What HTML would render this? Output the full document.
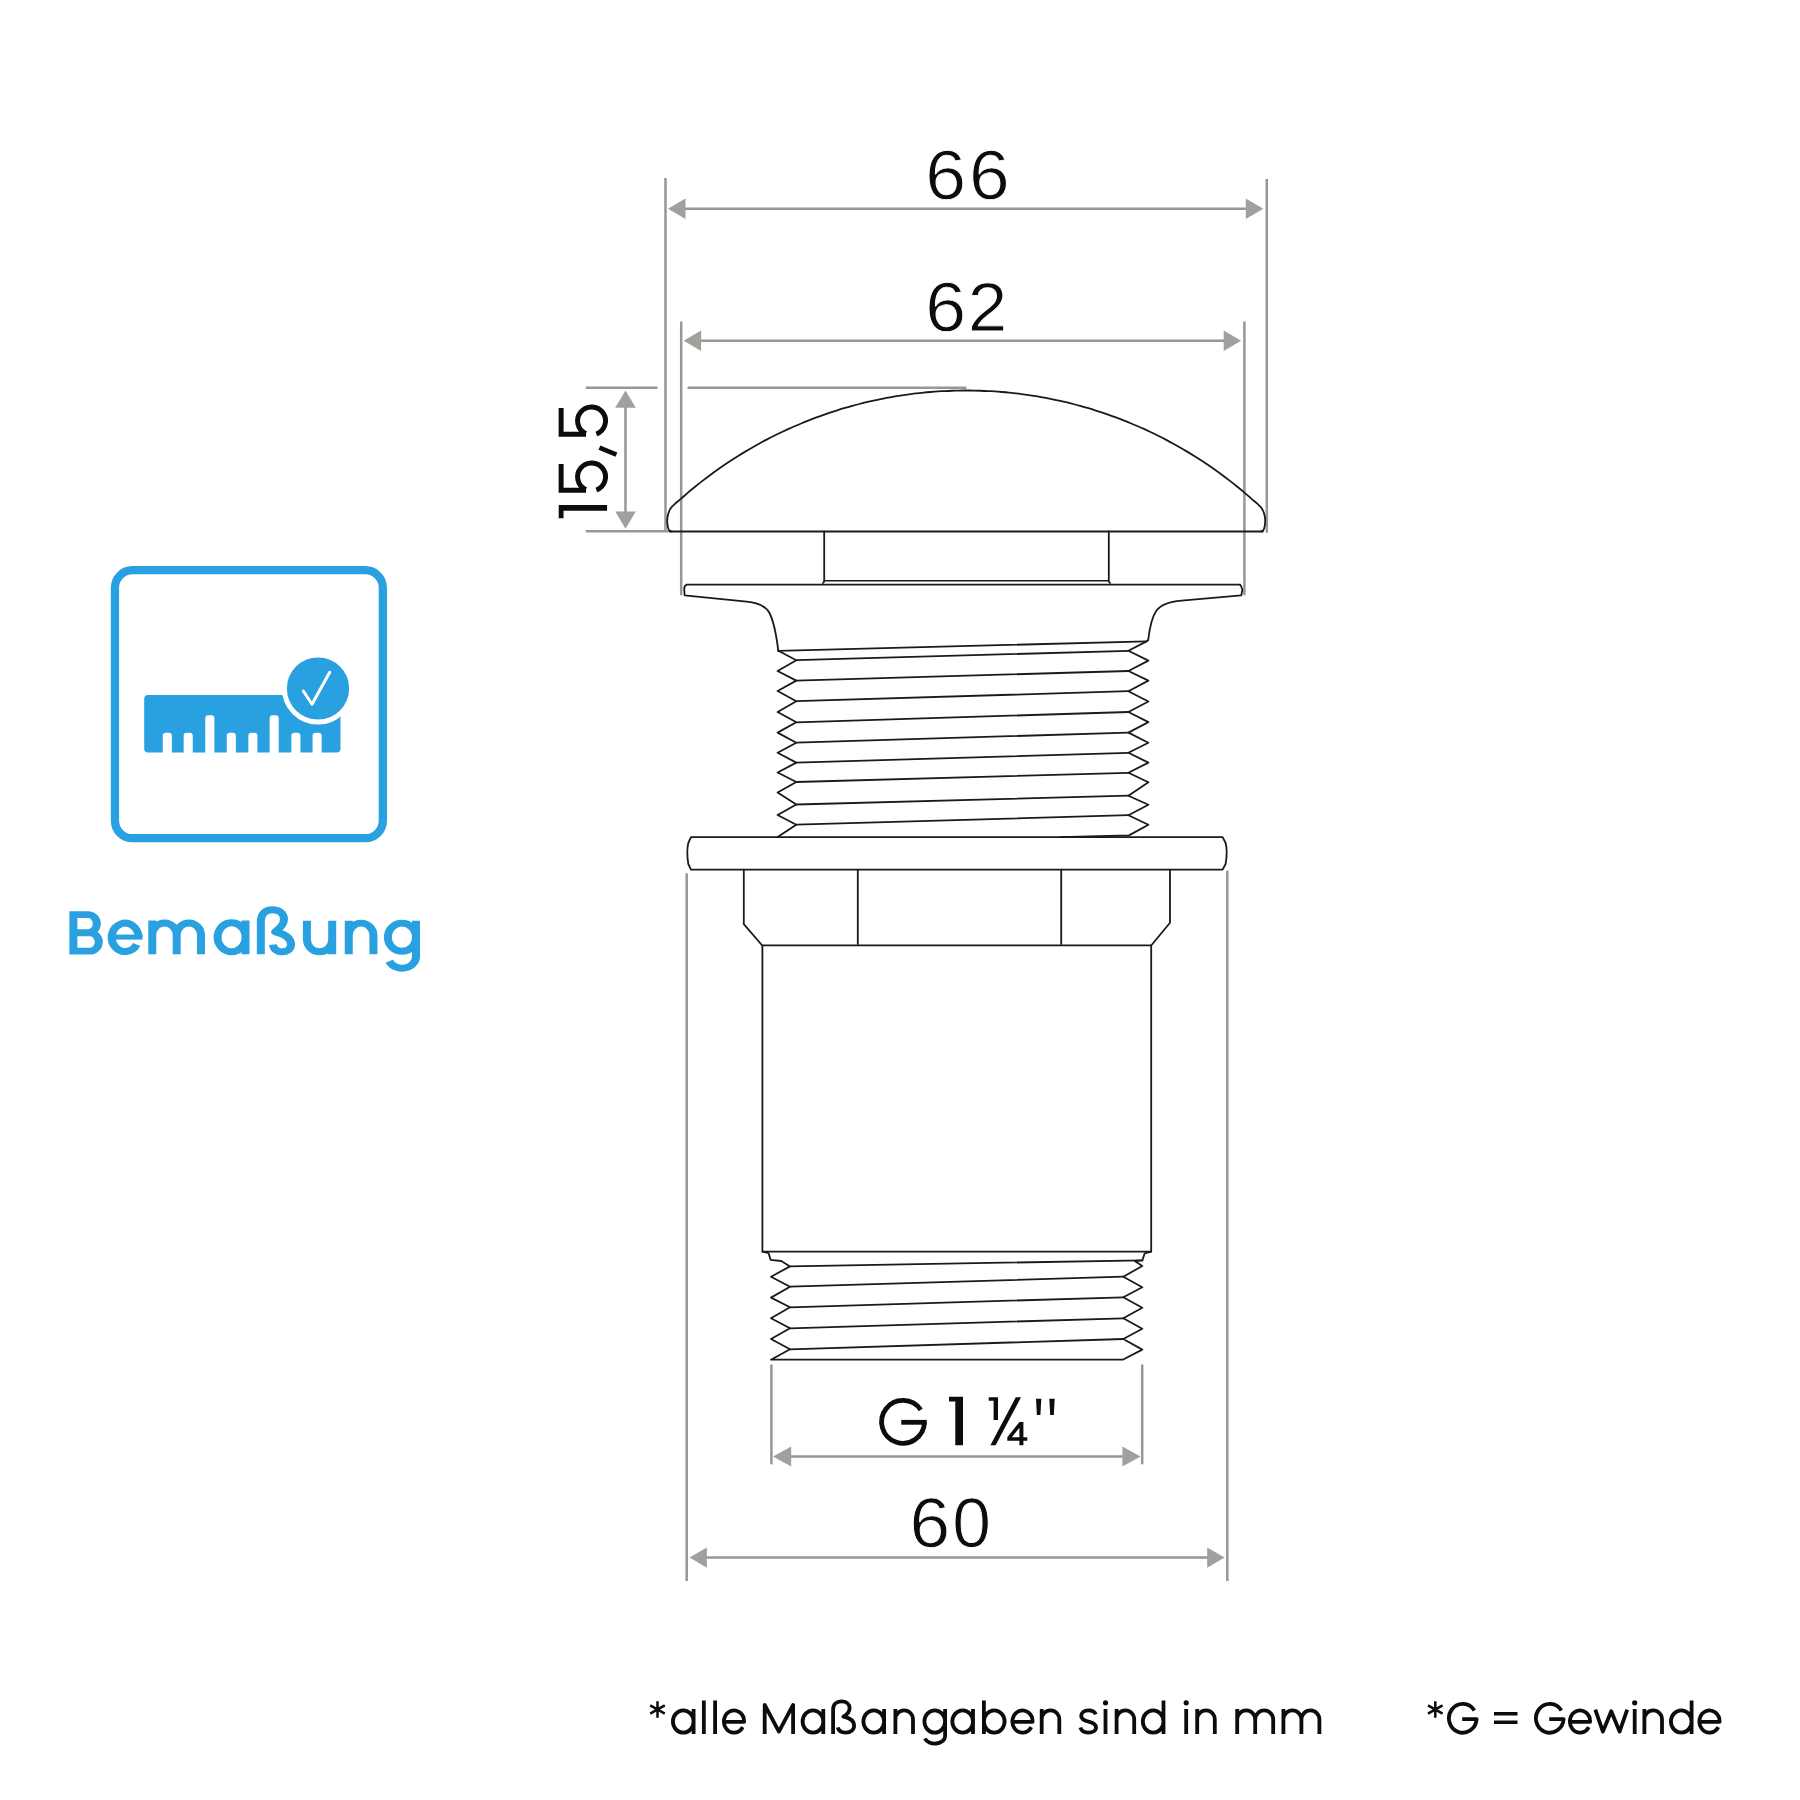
<!DOCTYPE html>
<html lang="de"><head><meta charset="utf-8"><title>Bemaßung</title>
<style>html,body{margin:0;padding:0;background:#fff;}body{width:1800px;height:1800px;overflow:hidden;font-family:"Liberation Sans",sans-serif;}svg{display:block;}</style></head>
<body>
<svg width="1800" height="1800" viewBox="0 0 1800 1800" font-family="'Liberation Sans', sans-serif" text-rendering="geometricPrecision">
<rect width="1800" height="1800" fill="#ffffff"/>
<g id="dims">
<line x1="665.5" y1="178" x2="665.5" y2="531.5" stroke="#979795" stroke-width="2.5" />
<line x1="1266.8" y1="179" x2="1266.8" y2="532.7" stroke="#979795" stroke-width="2.5" />
<line x1="684.5" y1="208.8" x2="1246.8" y2="208.8" stroke="#979795" stroke-width="2.5" />
<polygon points="668.00,208.80 685.50,198.50 685.50,219.10" fill="#a0a09c"/>
<polygon points="1263.30,208.80 1245.80,198.50 1245.80,219.10" fill="#a0a09c"/>
<line x1="681.2" y1="321.6" x2="681.2" y2="595.3" stroke="#979795" stroke-width="2.5" />
<line x1="1244.4" y1="321.6" x2="1244.4" y2="595.3" stroke="#979795" stroke-width="2.5" />
<line x1="700.1" y1="340.8" x2="1224.7" y2="340.8" stroke="#979795" stroke-width="2.5" />
<polygon points="683.60,340.80 701.10,330.50 701.10,351.10" fill="#a0a09c"/>
<polygon points="1241.20,340.80 1223.70,330.50 1223.70,351.10" fill="#a0a09c"/>
<line x1="585.8" y1="387.8" x2="657.5" y2="387.8" stroke="#979795" stroke-width="2.5" />
<line x1="687.5" y1="387.8" x2="966.5" y2="387.8" stroke="#979795" stroke-width="2.5" />
<line x1="585.8" y1="531.2" x2="668.5" y2="531.2" stroke="#979795" stroke-width="2.5" />
<line x1="625.5" y1="406.8" x2="625.5" y2="512.5999999999999" stroke="#979795" stroke-width="2.5" />
<polygon points="625.50,390.60 615.20,407.80 635.80,407.80" fill="#a0a09c"/>
<polygon points="625.50,528.80 615.20,511.60 635.80,511.60" fill="#a0a09c"/>
<line x1="771.4" y1="1364.5" x2="771.4" y2="1464.3" stroke="#979795" stroke-width="2.5" />
<line x1="1142.2" y1="1364.5" x2="1142.2" y2="1464.3" stroke="#979795" stroke-width="2.5" />
<line x1="790.2" y1="1456.5" x2="1123.3999999999999" y2="1456.5" stroke="#979795" stroke-width="2.5" />
<polygon points="773.00,1456.50 791.20,1446.40 791.20,1466.60" fill="#a0a09c"/>
<polygon points="1140.60,1456.50 1122.40,1446.40 1122.40,1466.60" fill="#a0a09c"/>
<line x1="686.7" y1="873.3" x2="686.7" y2="1581" stroke="#979795" stroke-width="2.5" />
<line x1="1227.3" y1="870.8" x2="1227.3" y2="1581" stroke="#979795" stroke-width="2.5" />
<line x1="705.9" y1="1557.6" x2="1208.1999999999998" y2="1557.6" stroke="#979795" stroke-width="2.5" />
<polygon points="689.50,1557.60 706.90,1547.40 706.90,1567.80" fill="#a0a09c"/>
<polygon points="1224.60,1557.60 1207.20,1547.40 1207.20,1567.80" fill="#a0a09c"/>
</g>
<g id="drawing">
<path d="M671.60,531.50 C671.20,531.32 669.83,531.22 669.20,530.40 C668.57,529.58 668.13,528.33 667.80,526.60 C667.47,524.87 667.12,522.20 667.20,520.00 C667.28,517.80 667.65,515.43 668.30,513.40 C668.95,511.37 669.88,509.50 671.10,507.80 C672.32,506.10 673.93,504.73 675.60,503.20 C677.27,501.67 679.00,500.40 681.10,498.60 C683.20,496.81 685.85,494.44 688.23,492.43 C690.60,490.41 692.98,488.45 695.36,486.52 C697.73,484.59 700.11,482.71 702.48,480.86 C704.86,479.02 707.23,477.21 709.61,475.45 C711.99,473.68 714.36,471.95 716.74,470.26 C719.11,468.57 721.49,466.91 723.87,465.29 C726.24,463.67 728.62,462.08 730.99,460.53 C733.37,458.98 735.74,457.46 738.12,455.97 C740.50,454.49 742.87,453.03 745.25,451.61 C747.62,450.19 750.00,448.80 752.38,447.43 C754.75,446.07 757.13,444.74 759.50,443.44 C761.88,442.13 764.25,440.86 766.63,439.62 C769.01,438.37 771.38,437.16 773.76,435.97 C776.13,434.78 778.51,433.62 780.88,432.48 C783.26,431.35 785.64,430.24 788.01,429.16 C790.39,428.08 792.76,427.02 795.14,425.99 C797.52,424.96 799.89,423.95 802.27,422.97 C804.64,422.00 807.02,421.04 809.39,420.11 C811.77,419.18 814.15,418.27 816.52,417.39 C818.90,416.51 821.27,415.65 823.65,414.82 C826.03,413.98 828.40,413.17 830.78,412.38 C833.15,411.59 835.53,410.83 837.90,410.09 C840.28,409.34 842.66,408.62 845.03,407.92 C847.41,407.23 849.78,406.55 852.16,405.90 C854.54,405.24 856.91,404.61 859.29,404.00 C861.66,403.39 864.04,402.81 866.41,402.24 C868.79,401.67 871.17,401.13 873.54,400.60 C875.92,400.08 878.29,399.57 880.67,399.09 C883.05,398.61 885.42,398.15 887.80,397.71 C890.17,397.27 892.55,396.85 894.92,396.45 C897.30,396.05 899.68,395.67 902.05,395.31 C904.43,394.95 906.80,394.62 909.18,394.30 C911.56,393.98 913.93,393.68 916.31,393.40 C918.68,393.13 921.06,392.87 923.44,392.63 C925.81,392.39 928.19,392.18 930.56,391.98 C932.94,391.78 935.31,391.60 937.69,391.45 C940.07,391.29 942.44,391.15 944.82,391.03 C947.19,390.91 949.57,390.82 951.95,390.74 C954.32,390.66 956.70,390.60 959.07,390.56 C961.45,390.52 963.82,390.50 966.20,390.50 C968.58,390.50 970.95,390.52 973.33,390.56 C975.70,390.60 978.08,390.66 980.46,390.74 C982.83,390.82 985.21,390.91 987.58,391.03 C989.96,391.15 992.33,391.29 994.71,391.45 C997.09,391.60 999.46,391.78 1001.84,391.98 C1004.21,392.18 1006.59,392.39 1008.97,392.63 C1011.34,392.87 1013.72,393.13 1016.09,393.40 C1018.47,393.68 1020.84,393.98 1023.22,394.30 C1025.60,394.62 1027.97,394.95 1030.35,395.31 C1032.72,395.67 1035.10,396.05 1037.48,396.45 C1039.85,396.85 1042.23,397.27 1044.60,397.71 C1046.98,398.15 1049.35,398.61 1051.73,399.09 C1054.11,399.57 1056.48,400.08 1058.86,400.60 C1061.23,401.13 1063.61,401.67 1065.99,402.24 C1068.36,402.81 1070.74,403.39 1073.11,404.00 C1075.49,404.61 1077.86,405.24 1080.24,405.90 C1082.62,406.55 1084.99,407.23 1087.37,407.92 C1089.74,408.62 1092.12,409.34 1094.50,410.09 C1096.87,410.83 1099.25,411.59 1101.62,412.38 C1104.00,413.17 1106.37,413.98 1108.75,414.82 C1111.13,415.65 1113.50,416.51 1115.88,417.39 C1118.25,418.27 1120.63,419.18 1123.01,420.11 C1125.38,421.04 1127.76,422.00 1130.13,422.97 C1132.51,423.95 1134.88,424.96 1137.26,425.99 C1139.64,427.02 1142.01,428.08 1144.39,429.16 C1146.76,430.24 1149.14,431.35 1151.52,432.48 C1153.89,433.62 1156.27,434.78 1158.64,435.97 C1161.02,437.16 1163.39,438.37 1165.77,439.62 C1168.15,440.86 1170.52,442.13 1172.90,443.44 C1175.27,444.74 1177.65,446.07 1180.03,447.43 C1182.40,448.80 1184.78,450.19 1187.15,451.61 C1189.53,453.03 1191.90,454.49 1194.28,455.97 C1196.66,457.46 1199.03,458.98 1201.41,460.53 C1203.78,462.08 1206.16,463.67 1208.54,465.29 C1210.91,466.91 1213.29,468.57 1215.66,470.26 C1218.04,471.95 1220.41,473.68 1222.79,475.45 C1225.17,477.21 1227.54,479.02 1229.92,480.86 C1232.29,482.71 1234.67,484.59 1237.05,486.52 C1239.42,488.45 1241.80,490.41 1244.17,492.43 C1246.55,494.44 1249.20,496.81 1251.30,498.60 C1253.40,500.40 1255.13,501.67 1256.80,503.20 C1258.47,504.73 1260.08,506.10 1261.30,507.80 C1262.52,509.50 1263.45,511.37 1264.10,513.40 C1264.75,515.43 1265.12,517.80 1265.20,520.00 C1265.28,522.20 1264.93,524.87 1264.60,526.60 C1264.27,528.33 1263.83,529.58 1263.20,530.40 C1262.57,531.22 1261.20,531.32 1260.80,531.50" fill="none" stroke="#1a1a1a" stroke-width="1.8" stroke-linejoin="round" stroke-linecap="round" />
<path d="M669.60,531.50 L1262.80,531.50" fill="none" stroke="#1a1a1a" stroke-width="1.8" stroke-linejoin="round" stroke-linecap="round" />
<path d="M824.20,531.30 L824.20,581.50 L823.00,583.00" fill="none" stroke="#1a1a1a" stroke-width="1.8" stroke-linejoin="round" stroke-linecap="round" />
<path d="M1108.80,531.30 L1108.80,581.50 L1110.00,583.00" fill="none" stroke="#1a1a1a" stroke-width="1.8" stroke-linejoin="round" stroke-linecap="round" />
<path d="M824.50,580.80 L1108.50,580.80" fill="none" stroke="#1a1a1a" stroke-width="1.4" stroke-linejoin="round" stroke-linecap="round" />
<path d="M1240,584.7 L686.7,584.7 Q684.6,585.6 684.2,588 L684.6,595.3 L746.7,601.7 C759,603 766,606.5 769.5,613 C774,622 776.5,636 778.3,650.8" fill="none" stroke="#1a1a1a" stroke-width="1.8" stroke-linejoin="round" stroke-linecap="round" />
<path d="M1240,584.7 Q1241.8,586.5 1242.4,590 L1241.3,595.3 L1181.5,600.6 C1168,601.8 1160.5,605 1156.5,610.5 C1151.5,617.5 1149.6,628 1148.2,640" fill="none" stroke="#1a1a1a" stroke-width="1.8" stroke-linejoin="round" stroke-linecap="round" />
<path d="M778.30,650.80 L796.30,660.20 L777.60,671.00 L796.30,680.60 L777.60,691.00 L796.30,701.20 L777.60,712.00 L796.30,722.30 L777.60,732.60 L796.30,742.70 L777.60,752.80 L796.30,762.60 L777.60,772.50 L796.30,782.00 L777.60,792.50 L796.30,804.50 L777.60,815.00 L796.30,824.70 L777.60,836.90" fill="none" stroke="#1a1a1a" stroke-width="1.8" stroke-linejoin="round" stroke-linecap="round" stroke-linejoin="miter"/>
<path d="M1148.20,640.00 L1146.60,641.40 L1128.40,650.80 L1148.40,660.60 L1128.40,671.00 L1148.40,680.60 L1128.40,691.20 L1148.40,701.50 L1128.40,712.00 L1148.40,722.10 L1128.40,732.60 L1148.40,742.70 L1128.40,752.80 L1148.40,762.60 L1128.40,772.80 L1148.40,782.30 L1128.40,795.70 L1148.40,804.70 L1128.40,815.20 L1148.40,824.70 L1129.00,835.40 L1060.00,837.20" fill="none" stroke="#1a1a1a" stroke-width="1.8" stroke-linejoin="round" stroke-linecap="round" />
<path d="M778.30,650.80 L1146.60,641.40" fill="none" stroke="#1a1a1a" stroke-width="1.8" stroke-linejoin="round" stroke-linecap="round" />
<path d="M796.30,660.20 L1128.40,650.80" fill="none" stroke="#1a1a1a" stroke-width="1.8" stroke-linejoin="round" stroke-linecap="round" />
<path d="M796.30,680.60 L1128.40,671.00" fill="none" stroke="#1a1a1a" stroke-width="1.8" stroke-linejoin="round" stroke-linecap="round" />
<path d="M796.30,701.20 L1128.40,691.20" fill="none" stroke="#1a1a1a" stroke-width="1.8" stroke-linejoin="round" stroke-linecap="round" />
<path d="M796.30,722.30 L1128.40,712.00" fill="none" stroke="#1a1a1a" stroke-width="1.8" stroke-linejoin="round" stroke-linecap="round" />
<path d="M796.30,742.70 L1128.40,732.60" fill="none" stroke="#1a1a1a" stroke-width="1.8" stroke-linejoin="round" stroke-linecap="round" />
<path d="M796.30,762.60 L1128.40,752.80" fill="none" stroke="#1a1a1a" stroke-width="1.8" stroke-linejoin="round" stroke-linecap="round" />
<path d="M796.30,782.00 L1128.40,772.80" fill="none" stroke="#1a1a1a" stroke-width="1.8" stroke-linejoin="round" stroke-linecap="round" />
<path d="M796.30,804.50 L1128.40,795.70" fill="none" stroke="#1a1a1a" stroke-width="1.8" stroke-linejoin="round" stroke-linecap="round" />
<path d="M796.30,824.70 L1128.40,815.20" fill="none" stroke="#1a1a1a" stroke-width="1.8" stroke-linejoin="round" stroke-linecap="round" />
<path d="M691,837.2 L1222.6,837.2 L1225.6,843 Q1227.8,851.5 1225.6,864 L1222.6,869.7 L691,869.7 L688.3,864 Q686.3,851.5 688.3,843 Z" fill="none" stroke="#1a1a1a" stroke-width="1.8" stroke-linejoin="round" stroke-linecap="round" />
<path d="M743.80,869.70 L743.80,924.20 L761.80,945.00" fill="none" stroke="#1a1a1a" stroke-width="1.8" stroke-linejoin="round" stroke-linecap="round" />
<path d="M1170.00,869.70 L1170.00,922.80 L1151.60,945.00" fill="none" stroke="#1a1a1a" stroke-width="1.8" stroke-linejoin="round" stroke-linecap="round" />
<path d="M857.80,869.70 L857.80,944.00" fill="none" stroke="#1a1a1a" stroke-width="1.8" stroke-linejoin="round" stroke-linecap="round" />
<path d="M1061.20,869.70 L1061.20,944.00" fill="none" stroke="#1a1a1a" stroke-width="1.8" stroke-linejoin="round" stroke-linecap="round" />
<path d="M762.40,1251.70 L762.40,945.30 L1151.20,945.30 L1151.20,1251.70 L762.40,1251.70" fill="none" stroke="#1a1a1a" stroke-width="1.8" stroke-linejoin="round" stroke-linecap="round" />
<path d="M762.60,1251.70 L768.60,1253.20 L770.60,1259.80 L781.30,1261.00 L790.00,1266.40 L771.00,1276.70 L790.00,1286.70 L771.00,1297.60 L790.00,1307.30 L771.00,1318.30 L790.00,1328.30 L771.00,1339.00 L790.00,1349.30 L771.00,1359.70 L1122.70,1359.70 L1142.30,1349.60 L1123.30,1339.00 L1142.30,1328.70 L1123.30,1318.30 L1142.30,1307.70 L1123.30,1297.30 L1142.30,1287.30 L1123.30,1276.70 L1142.30,1266.00 L1134.70,1261.00 L1142.40,1260.30 L1144.70,1253.30 L1151.00,1251.70" fill="none" stroke="#1a1a1a" stroke-width="1.8" stroke-linejoin="round" stroke-linecap="round" />
<path d="M790.00,1266.40 L1142.40,1260.30" fill="none" stroke="#1a1a1a" stroke-width="1.8" stroke-linejoin="round" stroke-linecap="round" />
<path d="M1123.30,1276.70 L790.00,1286.70" fill="none" stroke="#1a1a1a" stroke-width="1.8" stroke-linejoin="round" stroke-linecap="round" />
<path d="M1123.30,1297.30 L790.00,1307.30" fill="none" stroke="#1a1a1a" stroke-width="1.8" stroke-linejoin="round" stroke-linecap="round" />
<path d="M1123.30,1318.30 L790.00,1328.30" fill="none" stroke="#1a1a1a" stroke-width="1.8" stroke-linejoin="round" stroke-linecap="round" />
<path d="M1123.30,1339.00 L790.00,1349.30" fill="none" stroke="#1a1a1a" stroke-width="1.8" stroke-linejoin="round" stroke-linecap="round" />
</g>
<g id="labels">
<text transform="matrix(0.7347,0,0,0.6991,925.37,199.02)" font-size="100" fill="#0c0c0c" stroke="#ffffff" stroke-width="1.3">6</text>
<text transform="matrix(0.7303,0,0,0.6991,968.99,199.02)" font-size="100" fill="#0c0c0c" stroke="#ffffff" stroke-width="1.3">6</text>
<text transform="matrix(0.7347,0,0,0.6991,925.37,331.02)" font-size="100" fill="#0c0c0c" stroke="#ffffff" stroke-width="1.3">6</text>
<text transform="matrix(0.7112,0,0,0.6917,967.72,330.50)" font-size="100" fill="#0c0c0c" stroke="#ffffff" stroke-width="1.3">2</text>
<text transform="matrix(0.7303,0,0,0.7034,909.59,1547.31)" font-size="100" fill="#0c0c0c" stroke="#ffffff" stroke-width="1.3">6</text>
<text transform="matrix(0.6966,0,0,0.7034,952.28,1547.31)" font-size="100" fill="#0c0c0c" stroke="#ffffff" stroke-width="1.3">0</text>
<g transform="translate(607.1,518.2) rotate(-90) scale(0.4840)"><path d="M15.5,-100 H27.5 V0 H15.5 Z M0,-100 H16 V-90 H0 Z" fill="#0c0c0c"/></g>
<g transform="translate(607.1,493.3) rotate(-90) scale(0.4840)"><path d="M60.5,-95 L6.4,-95 L6.4,-43.5 M7.54,-43.83 A28.85,28.85 0 1 1 6.79,-22.23" fill="none" stroke="#0c0c0c" stroke-width="10.3" stroke-linejoin="miter"/></g>
<g transform="translate(607.1,437.3) rotate(-90) scale(0.4840)"><path d="M60.5,-95 L6.4,-95 L6.4,-43.5 M7.54,-43.83 A28.85,28.85 0 1 1 6.79,-22.23" fill="none" stroke="#0c0c0c" stroke-width="10.3" stroke-linejoin="miter"/></g>
<line x1="599.4" y1="447.6" x2="616.4" y2="454.6" stroke="#0c0c0c" stroke-width="4.8"/>
<g fill="#0c0c0c">
<path d="M920.74,1409.83 A21.4,21.4 0 1 0 924.40,1422.30" fill="none" stroke="#0c0c0c" stroke-width="4.8"/>
<rect x="901.3" y="1419.9" width="25.4" height="4.8"/>
<path d="M955.3,1396.7 H963 V1445.3 H955.3 Z M949,1396.7 H955.8 V1401.5 H949 Z"/>
<path d="M993.6,1397.3 H998 V1420 H993.6 Z M988.7,1397.3 H994 V1400.7 H988.7 Z"/>
<polygon points="1015.8,1397.3 1021,1397.3 995.6,1445.3 990.4,1445.3"/>
<path d="M1019.4,1422 H1023.4 V1445.3 H1019.4 Z M1007.3,1437.2 H1027.3 V1440.7 H1007.3 Z M1019.4,1422 L1022.3,1424.2 L1010.6,1438.8 L1007.3,1437.2 Z"/>
<polygon points="1036,1398.7 1041.3,1398.7 1040.4,1415 1036.9,1415"/>
<polygon points="1049.3,1398.7 1054.7,1398.7 1053.8,1415 1050.2,1415"/>
</g>
</g>
<g id="icon">
<rect x="114.95" y="570.2" width="267.9" height="268" rx="17.5" ry="17.5" fill="none" stroke="#29a0e0" stroke-width="8.3"/>
<path d="M148,695 H336.7 Q340.5,695 340.5,698.8 V748.8 Q340.5,752.6 336.7,752.6 H321.65 V735.70 Q321.65,732.70 318.65,732.70 H315.55 Q312.55,732.70 312.55,735.70 V752.6 H300.45 V735.70 Q300.45,732.70 297.45,732.70 H294.35 Q291.35,732.70 291.35,735.70 V752.6 H278.75 V718.20 Q278.75,715.20 275.75,715.20 H272.65 Q269.65,715.20 269.65,718.20 V752.6 H257.45 V735.70 Q257.45,732.70 254.45,732.70 H251.35 Q248.35,732.70 248.35,735.70 V752.6 H235.85 V735.70 Q235.85,732.70 232.85,732.70 H229.75 Q226.75,732.70 226.75,735.70 V752.6 H214.35 V718.20 Q214.35,715.20 211.35,715.20 H208.25 Q205.25,715.20 205.25,718.20 V752.6 H192.75 V735.70 Q192.75,732.70 189.75,732.70 H186.65 Q183.65,732.70 183.65,735.70 V752.6 H171.85 V735.70 Q171.85,732.70 168.85,732.70 H165.75 Q162.75,732.70 162.75,735.70 V752.6 H148 Q144.2,752.6 144.2,748.8 V698.8 Q144.2,695 148,695 Z" fill="#29a0e0"/>
<circle cx="318" cy="688.5" r="33.6" fill="#29a0e0" stroke="#ffffff" stroke-width="5"/>
<path d="M303.3,691 L312,704.3 L329.7,672.2" fill="none" stroke="#ffffff" stroke-width="3.0" stroke-linecap="round" stroke-linejoin="round"/>
</g>
<g id="wordmark" role="img" aria-label="Bemaßung"><title>Bemaßung</title>
<path transform="translate(0,954.3) scale(1,0.86)" d="M73.40,-50.12 V0.23 M73.40,-46.16 H88.00 A8.80,10.52 0 0 1 88.00,-25.12 H73.40 M88.00,-25.12 H89.60 A9.20,10.70 0 0 1 89.60,-3.72 H73.40 M138.50,-19.65 A13.40,16.51 0 1 0 136.70,-11.40 M152.30,-39.30 V0.00 M152.30,-22.21 A12.20,14.19 0 0 1 176.70,-22.21 V0.00 M176.70,-22.21 A12.15,14.19 0 0 1 201.00,-22.21 V0.00 M245.60,-19.77 A14.00,16.86 0 1 0 217.60,-19.77 A14.00,16.86 0 1 0 245.60,-19.77 M245.50,-39.30 V0.00 M260.85,0.00 L260.85,-38.14 C260.85,-47.09 265.60,-51.86 272.40,-51.86 C279.40,-51.86 284.00,-47.33 284.00,-40.70 C284.00,-34.30 280.00,-30.23 275.30,-26.16 C283.00,-24.19 291.00,-20.12 291.00,-11.28 C291.00,-5.70 286.80,-2.79 281.70,-2.79 C276.80,-2.79 273.60,-5.70 273.00,-11.16 M306.90,-39.07 V-17.44 A12.65,14.53 0 0 0 332.20,-17.44 M332.20,-39.07 V0.00 M348.75,-39.07 V0.00 M348.75,-21.98 A12.35,14.30 0 0 1 373.45,-21.98 V0.00 M416.00,-19.88 A14.05,16.34 0 1 0 387.90,-19.88 A14.05,16.34 0 1 0 416.00,-19.88 M416.00,-39.07 V2.56 A14.00,13.60 0 0 1 389.21,8.09" fill="none" stroke="#29a0e0" stroke-width="8.0" stroke-linejoin="round" stroke-linecap="butt"/>
<rect x="112" y="934.6" width="30.5" height="5" fill="#29a0e0"/>
</g>
<g id="footnotes" role="img" aria-label="*alle Maßangaben sind in mm   *G = Gewinde"><title>*alle Maßangaben sind in mm — *G = Gewinde</title>
<path d="M693.60,1721.50 A10.35,11.10 0 1 0 672.90,1721.50 A10.35,11.10 0 1 0 693.60,1721.50 M693.60,1709.00 V1734.00 M703.85,1700.50 V1734.00 M715.10,1700.50 V1734.00 M723.90,1721.8 H744.10 A10.10,11.10 0 1 0 742.75,1727.05 M764.70,1734.00 V1704.90 L778.90,1731.60 L793.10,1704.90 V1734.00 M823.30,1721.50 A10.35,11.10 0 1 0 802.60,1721.50 A10.35,11.10 0 1 0 823.30,1721.50 M823.30,1709.00 V1734.00 M833.10,1734.00 V1709.6 C833.10,1704.2 836.70,1701.4 841.35,1701.4 C846.20,1701.4 849.60,1704.2 849.60,1708.3 C849.60,1712.3 846.70,1714.8 843.40,1716.7 C848.80,1717.8 854.10,1720.5 854.10,1725.6 C854.10,1730.0 850.50,1732.6 845.80,1732.6 C841.60,1732.6 838.50,1730.8 837.80,1727.4 M884.10,1721.50 A10.35,11.10 0 1 0 863.40,1721.50 A10.35,11.10 0 1 0 884.10,1721.50 M884.10,1709.00 V1734.00 M895.40,1709.00 V1734.00 M895.40,1719.40 A8.80,9 0 0 1 913.00,1719.40 V1734.00 M945.10,1721.50 A10.35,11.10 0 1 0 924.40,1721.50 A10.35,11.10 0 1 0 945.10,1721.50 M945.10,1709.00 V1736.2 A10.35,7.4 0 0 1 924.91,1738.49 M973.00,1721.50 A10.35,11.10 0 1 0 952.30,1721.50 A10.35,11.10 0 1 0 973.00,1721.50 M973.00,1709.00 V1734.00 M1004.60,1721.50 A10.35,11.10 0 1 0 983.90,1721.50 A10.35,11.10 0 1 0 1004.60,1721.50 M983.90,1700.50 V1734.00 M1012.40,1721.8 H1032.60 A10.10,11.10 0 1 0 1031.25,1727.05 M1041.70,1709.00 V1734.00 M1041.70,1719.40 A8.80,9 0 0 1 1059.30,1719.40 V1734.00 M1095.80,1714.4 C1094.70,1711.7 1092.10,1710.4 1088.50,1710.4 C1084.10,1710.4 1081.20,1712.8 1081.20,1716.1 C1081.20,1719.6 1084.50,1720.7 1088.50,1721.6 C1092.90,1722.6 1096.00,1724.0 1096.00,1727.4 C1096.00,1730.7 1092.70,1732.6 1088.30,1732.6 C1084.10,1732.6 1081.30,1730.6 1080.40,1727.5 M1105.50,1709.00 V1734.00 M1116.60,1709.00 V1734.00 M1116.60,1719.40 A8.80,9 0 0 1 1134.20,1719.40 V1734.00 M1163.50,1721.50 A10.35,11.10 0 1 0 1142.80,1721.50 A10.35,11.10 0 1 0 1163.50,1721.50 M1163.50,1700.50 V1734.00 M1186.20,1709.00 V1734.00 M1197.20,1709.00 V1734.00 M1197.20,1719.40 A8.80,9 0 0 1 1214.80,1719.40 V1734.00 M1237.20,1709.00 V1734.00 M1237.20,1719.40 A9.00,9 0 0 1 1255.20,1719.40 V1734.00 M1255.20,1719.40 A9.00,9 0 0 1 1273.20,1719.40 V1734.00 M1283.40,1709.00 V1734.00 M1283.40,1719.40 A9.00,9 0 0 1 1301.40,1719.40 V1734.00 M1301.40,1719.40 A9.00,9 0 0 1 1319.40,1719.40 V1734.00 M1474.37,1710.43 A13.85,14.35 0 1 0 1476.60,1719.2 H1462.20 M1561.37,1710.43 A13.85,14.35 0 1 0 1563.60,1719.2 H1549.20 M1569.90,1721.8 H1590.10 A10.10,11.10 0 1 0 1588.75,1727.05 M1595.30,1709.6 L1602.90,1731.6 L1611.25,1711.2 L1619.60,1731.6 L1627.20,1709.6 M1634.70,1709.00 V1734.00 M1644.40,1709.00 V1734.00 M1644.40,1719.40 A8.80,9 0 0 1 1662.00,1719.40 V1734.00 M1691.60,1721.50 A10.35,11.10 0 1 0 1670.90,1721.50 A10.35,11.10 0 1 0 1691.60,1721.50 M1691.60,1700.50 V1734.00 M1699.40,1721.8 H1719.60 A10.10,11.10 0 1 0 1718.25,1727.05" fill="none" stroke="#0c0c0c" stroke-width="3.8" stroke-linejoin="round" stroke-linecap="butt"/>
<circle cx="1105.5" cy="1702.8" r="2.6" fill="#0c0c0c"/>
<circle cx="1186.2" cy="1702.8" r="2.6" fill="#0c0c0c"/>
<circle cx="1634.7" cy="1702.8" r="2.6" fill="#0c0c0c"/>
<path d="M657.5,1701.3 V1717.7 M650.2,1705.3 L664.8,1713.7 M650.2,1713.7 L664.8,1705.3" fill="none" stroke="#0c0c0c" stroke-width="2.5"/>
<path d="M1435.3,1701.3 V1717.7 M1428.0,1705.3 L1442.6,1713.7 M1428.0,1713.7 L1442.6,1705.3" fill="none" stroke="#0c0c0c" stroke-width="2.5"/>
<path d="M1494,1713.7 H1517.5 M1494,1722.3 H1517.5" fill="none" stroke="#0c0c0c" stroke-width="3.4"/>
</g>
</svg>
</body></html>
